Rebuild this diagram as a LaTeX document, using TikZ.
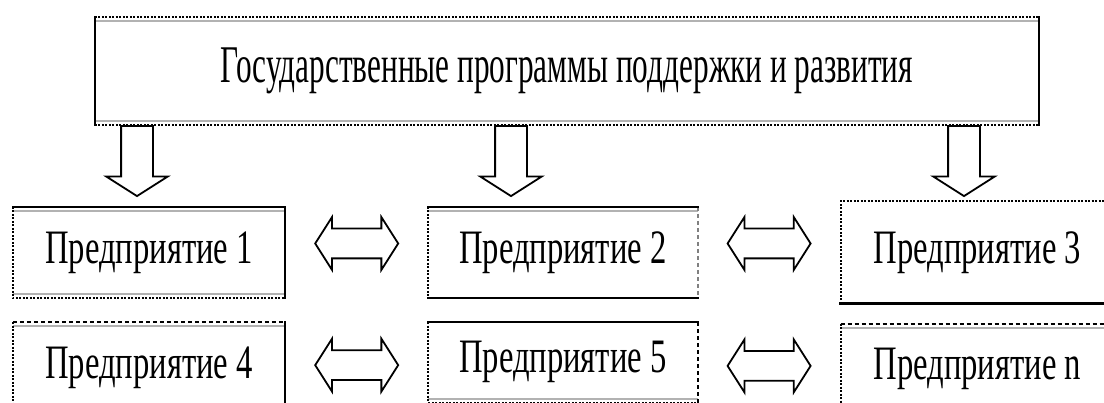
\documentclass[tikz,border=0pt]{standalone}
\usepackage{fontspec}
\newfontfamily\ruserif[FakeStretch=0.68]{Liberation Serif}
\newfontfamily\ruserifhead[FakeStretch=0.59]{Liberation Serif}
\usetikzlibrary{shapes.arrows,positioning,calc}

\begin{document}
\begin{tikzpicture}[
    x=1pt, y=1pt,
    prog/.style={rectangle, minimum width=944pt, minimum height=108pt, inner sep=0pt, font=\ruserifhead\fontsize{53}{60}\selectfont},
    firm/.style={rectangle, minimum width=272pt, minimum height=91pt, inner sep=0pt, font=\ruserif\fontsize{48}{56}\selectfont},
    down/.style={single arrow, draw, fill=white, line width=1.8pt, shape border rotate=270, minimum height=70pt, inner xsep=15pt, inner ysep=0pt, single arrow head extend=15pt, single arrow tip angle=115},
    link/.style={double arrow, draw, fill=white, line width=1.8pt, minimum height=83pt, inner xsep=0pt, inner ysep=14pt, double arrow head extend=11.5pt, double arrow tip angle=115},
    solidedge/.style={line width=2.5pt, line cap=rect},
    dotedge/.style={line width=2pt, dash pattern=on 2pt off 1.5pt},
    dashedge/.style={line width=2pt, dash pattern=on 4pt off 3pt},
    grayedge/.style={line width=2pt, gray!60}
]
\useasboundingbox (0,0) rectangle (1104,403);
\clip (0,0) rectangle (1104,403);

% Programmes box
\node[prog] (top) at (567,332) {Государственные программы поддержки и развития};

% Enterprises
\node[firm] (p1) at (149,150.5) {Предприятие 1};
\node[firm, minimum width=269pt, right=143pt of p1] (p2) {Предприятие 2};
\node[firm, minimum width=273pt, minimum height=102pt, right=143pt of p2] (p3) {Предприятие 3};
\node[firm, below=24pt of p1] (p4) {Предприятие 4};
\node[firm, minimum width=269pt, minimum height=80pt, below=24pt of p2] (p5) {Предприятие 5};
\node[firm, minimum width=273pt, below=20pt of p3] (pn) {Предприятие n};

% Box outlines
\draw[grayedge] ([yshift=-4pt]top.north west) -- ([yshift=-4pt]top.north east);
\draw[grayedge] ([yshift=4pt]top.south west) -- ([yshift=4pt]top.south east);
\draw[dotedge] (top.north west) -- (top.north east);
\draw[dotedge] (top.south west) -- (top.south east);
\draw[solidedge] (top.north west) -- (top.south west);
\draw[solidedge] (top.north east) -- (top.south east);

\draw[grayedge] ([yshift=-4pt]p1.north west) -- ([yshift=-4pt]p1.north east);
\draw[grayedge] ([yshift=4pt]p1.south west) -- ([yshift=4pt]p1.south east);
\draw[dotedge] (p1.north west) -- (p1.south west) -- (p1.south east);
\draw[solidedge] (p1.north west) -- (p1.north east) -- (p1.south east);

\draw[grayedge] ([yshift=-4pt]p2.north west) -- ([yshift=-4pt]p2.north east);
\draw[dotedge] (p2.north west) -- (p2.south west);
\draw[dashedge, gray] (p2.north east) -- (p2.south east);
\draw[solidedge] (p2.north west) -- (p2.north east);
\draw[solidedge] (p2.south west) -- (p2.south east);

\draw[dotedge] (p3.south west) -- (p3.north west) -- (p3.north east);
\draw[solidedge] (p3.south west) -- (p3.south east);

\draw[grayedge] ([yshift=-4pt]p4.north west) -- ([yshift=-4pt]p4.north east);
\draw[dashedge] (p4.north west) -- (p4.north east);
\draw[dotedge] (p4.north west) -- (p4.south west);
\draw[solidedge] (p4.north east) -- (p4.south east);

\draw[grayedge] ([yshift=4pt]p5.south west) -- ([yshift=4pt]p5.south east);
\draw[dotedge] (p5.north west) -- (p5.south west) -- (p5.south east);
\draw[dashedge] (p5.north east) -- (p5.south east);
\draw[solidedge] (p5.north west) -- (p5.north east);

\draw[grayedge] ([yshift=-4pt]pn.north west) -- ([yshift=-4pt]pn.north east);
\draw[dashedge] (pn.north west) -- (pn.north east);
\draw[dotedge] (pn.north west) -- (pn.south west);

% Support arrows
\node[down, anchor=tail] (d1) at ([xshift=-430pt]top.south) {};
\node[down, anchor=tail] (d2) at ([xshift=-56pt]top.south) {};
\node[down, anchor=tail] (d3) at ([xshift=397pt]top.south) {};

% Links between enterprises
\node[link] (l12) at ($(p1.east)!0.5!(p2.west)+(0,9)$) {};
\node[link] (l23) at ($(p2.east)!0.5!(p3.west)+(0,9)$) {};
\node[link] (l45) at ($(p4.east)!0.5!(p5.west)$) {};
\node[link] (l5n) at ($(p5.east)!0.5!(pn.west)$) {};

\end{tikzpicture}
\end{document}
